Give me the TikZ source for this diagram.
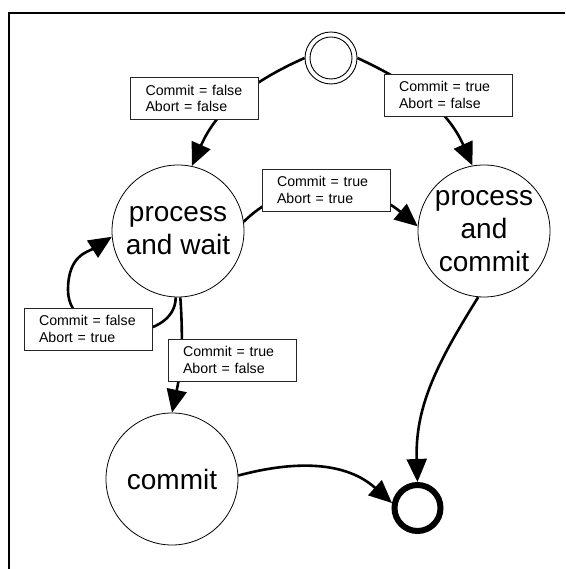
\documentclass[tikz,border=0pt]{standalone}
\usepackage{fontspec}
\setmainfont{Liberation Sans}
\usetikzlibrary{arrows.meta}
\begin{document}
\begin{tikzpicture}[x=1pt,y=1pt,
  state/.style={circle, draw, line width=0.8pt, minimum size=132pt, inner sep=0pt, align=center, font=\fontsize{28}{33}\selectfont},
  cond/.style={draw=black!85, line width=0.8pt, fill=white, minimum height=42pt, inner xsep=15pt, inner ysep=0pt, text width=98pt, align=left, font=\fontsize{14.2}{16.3}\selectfont},
  trans/.style={line width=2.6pt, -{Triangle[length=23pt,width=20pt]}},
  frame/.style={line width=2.6pt}
]
\useasboundingbox (0,0) rectangle (565,569);
\draw[frame] (9,0) -- (9,556) -- (565,556);

% states
\node[circle, draw, line width=0.9pt, minimum size=52pt, inner sep=0pt] (init) at (331,511) {};
\draw[line width=0.9pt] (init.center) circle[radius=21pt];
\node[state] (pw) at (178,338) {process\\and wait};
\node[state] (pc) at (484,338) {process\\and\\commit};
\node[state] (cm) at (172,90) {commit};
\node[circle, draw, line width=6pt, minimum size=46pt, inner sep=0pt] (fin) at (417.5,61) {};

% transitions
\draw[trans] (init.180) to[out=204,in=66] (pw.78);
\draw[trans] (init.0) to[out=-25,in=114] (pc.100);
\draw[trans] (pw.8) to[out=45,in=140] (pc.176);
\draw[trans] (pw.268) .. controls (176,224) and (68,224) .. (68,279) .. controls (68,314) and (88,317) .. (pw.185);
\draw[trans] (pw.272) to[out=-86,in=78] (cm.north);
\draw[trans] (pc.265) to[out=238,in=92] (fin.north);
\draw[trans] (cm.3) to[out=15,in=138] (fin.169);

% condition labels
\node[cond] (l1) at (194.5,470.5) {Commit = false\\Abort = false};
\node[cond] (l2) at (448,474) {Commit = true\\Abort = false};
\node[cond] (l3) at (326,379) {Commit = true\\Abort = true};
\node[cond] (l4) at (88,240) {Commit = false\\Abort = true};
\node[cond] (l5) at (232,209) {Commit = true\\Abort = false};
\end{tikzpicture}
\end{document}
